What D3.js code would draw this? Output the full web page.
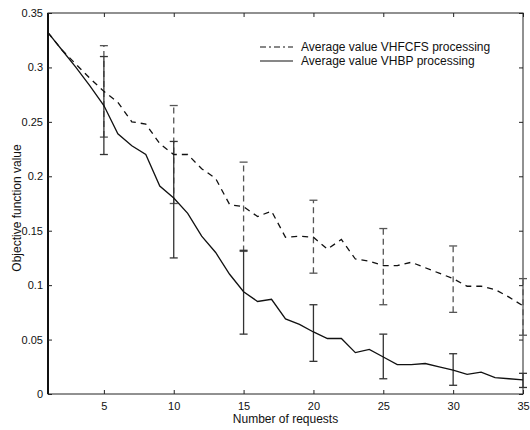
<!DOCTYPE html>
<html><head><meta charset="utf-8">
<script src="https://cdn.jsdelivr.net/npm/d3@7"></script>
<style>body{margin:0;background:#fff}svg{display:block}text{font-family:"Liberation Sans",Arial,sans-serif;fill:#111}</style>
</head><body><svg id="c" width="530" height="430"></svg>
<script>
const requests = d3.range(1, 36);
const vhfcfs = [0.332,0.316,0.303,0.290,0.278,0.268,0.250,0.248,0.230,0.220,0.220,0.207,0.198,0.174,0.172,0.163,0.168,0.144,0.145,0.144,0.133,0.142,0.124,0.122,0.118,0.118,0.121,0.116,0.111,0.106,0.099,0.099,0.096,0.089,0.081];
const vhbp   = [0.332,0.316,0.300,0.283,0.265,0.239,0.228,0.220,0.191,0.180,0.166,0.145,0.130,0.110,0.094,0.085,0.087,0.069,0.064,0.057,0.051,0.051,0.038,0.041,0.034,0.027,0.027,0.028,0.025,0.022,0.018,0.020,0.015,0.014,0.013];
const errX = [5,10,15,20,25,30,35];
const vhfcfsLow  = [0.236,0.175,0.131,0.111,0.082,0.075,0.054];
const vhfcfsHigh = [0.320,0.265,0.213,0.178,0.152,0.136,0.106];
const vhbpLow  = [0.220,0.125,0.055,0.030,0.014,0.008,0.006];
const vhbpHigh = [0.310,0.232,0.132,0.082,0.055,0.037,0.019];
const xTicks = [5,10,15,20,25,30,35];
const yTicks = [0,0.05,0.1,0.15,0.2,0.25,0.3,0.35];
const seriesNames = ["Average value VHFCFS processing","Average value VHBP processing"];

const svg = d3.select("#c");
const L=48, R=523, T=13, B=394;
const x = d3.scaleLinear().domain([1,35]).range([L,R]);
const y = d3.scaleLinear().domain([0,0.35]).range([B,T]);

// frame
svg.append("rect").attr("x",L).attr("y",T).attr("width",R-L).attr("height",B-T)
  .attr("fill","none").attr("stroke","#222").attr("stroke-width",1);
svg.append("line").attr("x1",L).attr("x2",L).attr("y1",T).attr("y2",B).attr("stroke","#111").attr("stroke-width",2);

// axes
const fmt = d => d===0 ? "0" : String(+d.toFixed(2));
const xa = svg.append("g").attr("transform",`translate(0,${B})`)
  .call(d3.axisBottom(x).tickValues(xTicks).tickSize(-4).tickPadding(8).tickFormat(d3.format("d")));
const xt = svg.append("g").attr("transform",`translate(0,${T})`)
  .call(d3.axisTop(x).tickValues(xTicks).tickSize(-4).tickFormat(""));
const ya = svg.append("g").attr("transform",`translate(${L},0)`)
  .call(d3.axisLeft(y).tickValues(yTicks).tickSize(-4).tickPadding(5).tickFormat(fmt));
const yr = svg.append("g").attr("transform",`translate(${R},0)`)
  .call(d3.axisRight(y).tickValues(yTicks).tickSize(-4).tickFormat(""));
[xa,xt,ya,yr].forEach(g=>{g.select(".domain").remove();g.selectAll("line").attr("stroke","#222");});
svg.selectAll(".tick text").attr("font-size",11).attr("fill","#111").style("font-family","'Liberation Sans',Arial,sans-serif");

// axis labels
svg.append("text").attr("x",(L+R)/2).attr("y",423).attr("text-anchor","middle").attr("font-size",12).text("Number of requests");
svg.append("text").attr("transform",`translate(21,208) rotate(-90)`).attr("text-anchor","middle").attr("font-size",12).text("Objective function value");

// error bars
function errbars(lo,hi,dash,color){
  const g = svg.append("g").attr("stroke",color).attr("stroke-width",1.3);
  errX.forEach((v,i)=>{
    g.append("line").attr("x1",x(v)).attr("x2",x(v)).attr("y1",y(lo[i])).attr("y2",y(hi[i])).attr("stroke-dasharray",dash);
    [lo[i],hi[i]].forEach(e=>g.append("line").attr("x1",x(v)-4).attr("x2",x(v)+4).attr("y1",y(e)).attr("y2",y(e)));
  });
}
errbars(vhfcfsLow,vhfcfsHigh,"6,4","#555");
errbars(vhbpLow,vhbpHigh,null,"#333");

// lines
const line = d3.line().x((d,i)=>x(requests[i])).y(d=>y(d));
svg.append("path").datum(vhfcfs).attr("d",line).attr("fill","none").attr("stroke","#111").attr("stroke-width",1.3).attr("stroke-dasharray","6,5");
svg.append("path").datum(vhbp).attr("d",line).attr("fill","none").attr("stroke","#111").attr("stroke-width",1.3);

// legend
const lg = svg.append("g");
lg.append("line").attr("x1",260).attr("x2",293).attr("y1",47).attr("y2",47).attr("stroke","#111").attr("stroke-width",1.2).attr("stroke-dasharray","6,3,2,3");
lg.append("line").attr("x1",260).attr("x2",293).attr("y1",61).attr("y2",61).attr("stroke","#111").attr("stroke-width",1.2);
lg.append("text").attr("x",301).attr("y",51).attr("font-size",12).text(seriesNames[0]);
lg.append("text").attr("x",301).attr("y",65).attr("font-size",12).text(seriesNames[1]);
</script></body></html>
